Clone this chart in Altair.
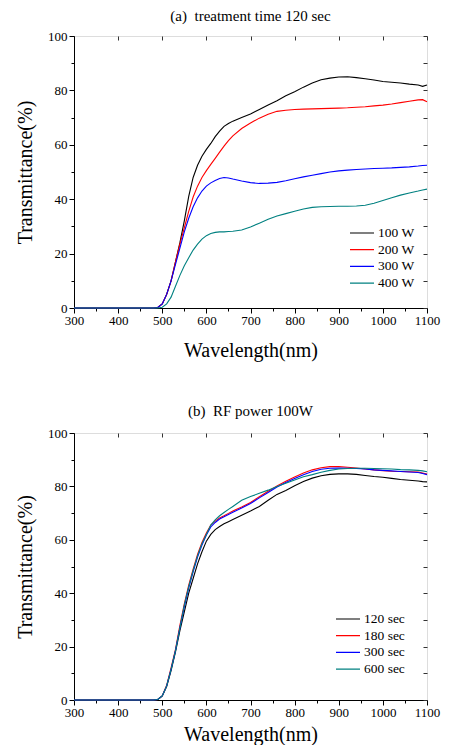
import altair as alt
import pandas as pd

wavelength = [300, 400, 480, 490, 500, 510, 520, 530, 540, 550, 560, 570, 580, 590, 600,
              610, 620, 630, 640, 650, 660, 680, 700, 720, 740, 760, 780, 800, 820, 840,
              860, 880, 900, 920, 940, 960, 980, 1000, 1020, 1040, 1060, 1080, 1090, 1100]

# Panel (a): treatment time 120 sec
names_a = ["100 W", "200 W", "300 W", "400 W"]
w100 = [0, 0, 0, 0.2, 1.5, 5, 10, 17, 24, 32, 41, 48, 52.5, 55.8, 58.3, 60.5, 63, 65, 66.8, 67.8, 68.7,
        70, 71.3, 73, 74.6, 76.2, 78, 79.5, 81.2, 82.7, 83.9, 84.5, 84.9, 85, 84.7, 84.3, 83.8, 83.3,
        83, 82.7, 82.3, 82, 81.5, 82]
w200 = [0, 0, 0, 0.2, 1.5, 5, 10, 17, 23.5, 29.5, 35.5, 40.8, 44.8, 48, 50.5, 52.8, 55, 57.3, 59.5, 61.5,
        63.3, 66, 68, 69.8, 71.2, 72.3, 72.7, 73, 73.1, 73.2, 73.3, 73.4, 73.5, 73.6, 73.8, 74, 74.3,
        74.6, 75, 75.5, 76, 76.5, 76.6, 75.8]
w300 = [0, 0, 0, 0.2, 1.5, 5, 10, 16, 22, 28, 33, 37.2, 40.5, 43, 44.8, 46, 46.9, 47.6, 48, 47.8, 47.4,
        46.7, 46.1, 45.8, 45.9, 46.2, 46.8, 47.5, 48.2, 48.8, 49.4, 50, 50.4, 50.7, 50.9, 51.1, 51.3,
        51.4, 51.5, 51.7, 51.9, 52.2, 52.4, 52.5]
w400 = [0, 0, 0, 0, 0.3, 1.5, 4, 8, 12, 15.5, 18.5, 21.3, 23.5, 25.3, 26.6, 27.4, 27.8, 28, 28, 28.1,
        28.2, 28.7, 29.8, 31.2, 32.6, 33.8, 34.7, 35.6, 36.4, 37, 37.2, 37.3, 37.4, 37.4, 37.5, 37.8,
        38.5, 39.5, 40.5, 41.5, 42.3, 43, 43.4, 43.7]

# Panel (b): RF power 100W
names_b = ["120 sec", "180 sec", "300 sec", "600 sec"]
s120 = [0, 0, 0, 0.2, 1.5, 5, 11, 18, 26, 33, 40, 45.5, 51, 55.5, 59.5, 62, 63.8, 65, 66, 66.8, 67.6,
        69.2, 70.8, 72.5, 74.8, 77, 78.5, 80.2, 81.8, 83.1, 84, 84.5, 84.7, 84.7, 84.5, 84.1, 83.7,
        83.4, 83, 82.6, 82.3, 82, 81.8, 81.7]
s180 = [0, 0, 0, 0.2, 1.5, 5.5, 12, 19, 28, 36, 43, 49, 54.5, 59, 62.5, 65.5, 67, 68.2, 69, 69.9, 70.8,
        72.3, 74, 76.1, 78.2, 80.2, 81.9, 83.5, 85, 86.2, 87, 87.4, 87.4, 87.2, 86.9, 86.5, 86.2,
        85.9, 85.7, 85.6, 85.5, 85.4, 85, 84.6]
s300 = [0, 0, 0, 0.2, 1.5, 5.3, 11.5, 18.5, 27, 35, 42, 48, 53.5, 58, 61.8, 64.8, 66.5, 67.8, 68.6, 69.5,
        70.3, 71.9, 73.6, 75.7, 77.7, 79.8, 81.5, 83, 84.4, 85.6, 86.4, 86.8, 86.9, 86.8, 86.7, 86.5,
        86.2, 86, 85.8, 85.6, 85.4, 85.2, 84.8, 84.4]
s600 = [0, 0, 0, 0.2, 1.5, 5.3, 11.5, 18.5, 27, 35.5, 42.5, 48.5, 54, 58.5, 62, 65.5, 67.5, 69, 70.2,
        71.4, 72.5, 74.8, 76.2, 77.4, 78.6, 80, 81.2, 82.4, 83.6, 84.4, 85.3, 86, 86.5, 86.7, 86.8,
        86.8, 86.7, 86.6, 86.5, 86.3, 86.2, 86, 85.8, 85.5]

colors = ["#000000", "#ff0000", "#0000ff", "#008080"]
FONT = "Liberation Serif"

x_minor = list(range(300, 1101, 50))
y_minor = list(range(0, 101, 10))


def make_df(names, series):
    rows = []
    for n, vals in zip(names, series):
        for w, v in zip(wavelength, vals):
            rows.append({"w": w, "t": v, "s": n})
    return pd.DataFrame(rows)


def panel(title, names, series, width, height, lx, ly, toff, xtpad):
    df = make_df(names, series)
    xs = alt.Scale(domain=[300, 1100], nice=False, zero=False)
    ys = alt.Scale(domain=[0, 100], nice=False)
    base = alt.Chart(df)
    main = base.mark_line(strokeWidth=1.1).encode(
        x=alt.X("w:Q", scale=xs, title="Wavelength(nm)",
                axis=alt.Axis(values=x_minor, orient="bottom", format="d",
                              labelExpr="datum.value % 100 == 0 ? datum.label : ''",
                              tickSize={"condition": {"test": "datum.value % 100 == 0", "value": 5}, "value": 3},
                              grid=False, domainColor="black", tickColor="black",
                              labelFont=FONT, labelFontSize=13, labelColor="black", labelPadding=1,
                              labelOverlap=False, labelFlush=False,
                              titleFont=FONT, titleFontSize=20, titleFontWeight="normal",
                              titleColor="black", titlePadding=xtpad)),
        y=alt.Y("t:Q", scale=ys, title="Transmittance(%)",
                axis=alt.Axis(values=y_minor, orient="left", format="d",
                              labelExpr="datum.value % 20 == 0 ? datum.label : ''",
                              tickSize={"condition": {"test": "datum.value % 20 == 0", "value": 5}, "value": 3},
                              grid=False, domainColor="black", tickColor="black",
                              labelFont=FONT, labelFontSize=13, labelColor="black", labelPadding=2,
                              labelOverlap=False,
                              titleFont=FONT, titleFontSize=20, titleFontWeight="normal",
                              titleColor="black", titlePadding=12)),
        color=alt.Color("s:N", scale=alt.Scale(domain=names, range=colors), sort=names,
                        legend=alt.Legend(title=None, orient="none", legendX=lx, legendY=ly,
                                          symbolType="stroke", symbolSize=576, symbolStrokeWidth=1.2,
                                          labelFont=FONT, labelFontSize=13.5, labelColor="black",
                                          labelOffset=3, rowPadding=2.7, clipHeight=14, padding=0)),
        detail="s:N",
    )
    frame = base.mark_line(opacity=0).encode(
        x=alt.X("w:Q", scale=xs, title=None,
                axis=alt.Axis(values=list(range(300, 1101, 100)), orient="top", labels=False,
                              domain=False, tickSize=4, offset=-4, tickColor="#333333", grid=False,
                              minExtent=0, maxExtent=0, titlePadding=0, labelPadding=0)),
        y=alt.Y("t:Q", scale=ys, title=None,
                axis=alt.Axis(values=y_minor, orient="right", labels=False,
                              domain=False, tickSize=4, offset=-4, tickColor="#333333", grid=False,
                              minExtent=0, maxExtent=0, titlePadding=0, labelPadding=0)),
        detail="s:N",
    )
    return alt.layer(main, frame).resolve_axis(x="independent", y="independent").properties(
        width=width, height=height,
        title=alt.TitleParams(title, font=FONT, fontSize=15, fontWeight="normal",
                              color="black", offset=toff),
    )


pa = panel("(a)\u00a0 treatment time 120 sec", names_a, [w100, w200, w300, w400], 353, 272,
           275, 190, 6, 13)
pb = panel("(b)\u00a0 RF power 100W", names_b, [s120, s180, s300, s600], 353, 267,
           261, 179, 8, 5)

chart = (
    alt.vconcat(pa, pb, spacing=42)
    .resolve_scale(color="independent")
    .resolve_legend(color="independent")
    .configure_view(stroke="black", strokeWidth=1)
    .configure_axis(labelFont=FONT, titleFont=FONT)
    .configure_legend(labelFont=FONT)
    .configure_title(font=FONT)
    .configure(background="white", padding={"left": 7, "top": 0, "right": 0, "bottom": 0})
)

chart.save("out.html", embed_options={"renderer": "svg", "actions": False})
